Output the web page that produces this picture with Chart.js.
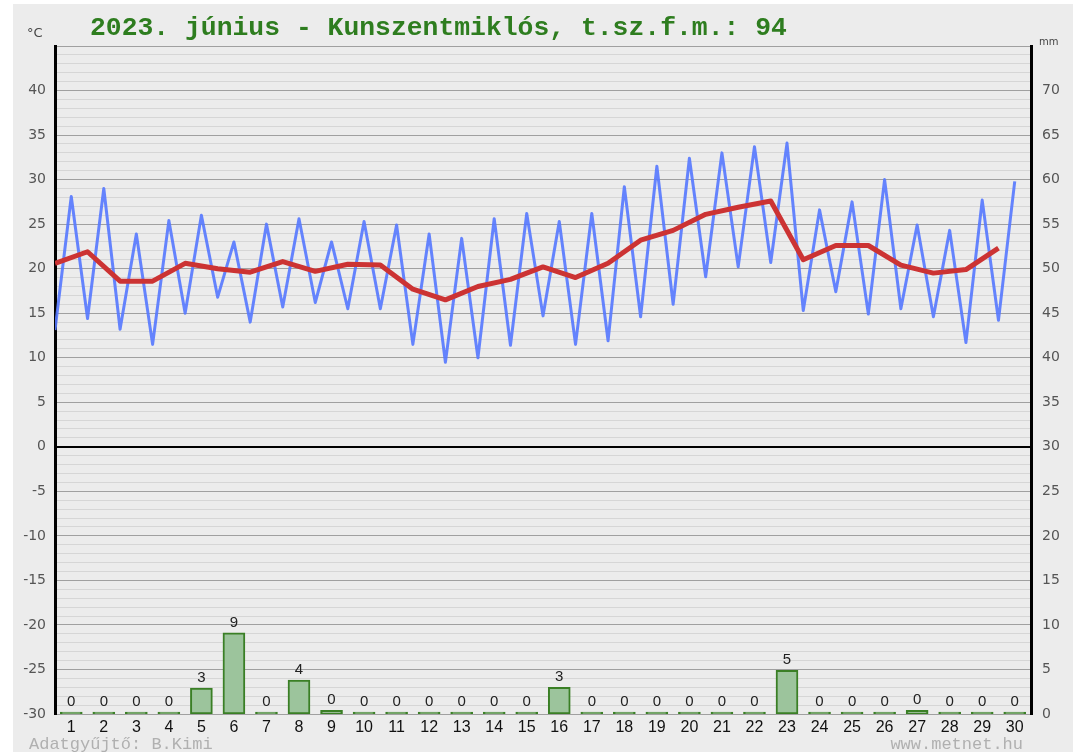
<!DOCTYPE html>
<html>
<head>
<meta charset="utf-8">
<script src="https://cdn.jsdelivr.net/npm/chart.js@4"></script>
<style>
  html, body { margin: 0; padding: 0; background: #ffffff; }
  #wrap { position: absolute; left: 13px; top: 4px; width: 1060px; height: 748px; background: #ececec; }
</style>
</head>
<body>
<div id="wrap"><canvas id="myChart"></canvas></div>
<script>
// napi adatok, 2023. június
var days = ['1','2','3','4','5','6','7','8','9','10','11','12','13','14','15',
            '16','17','18','19','20','21','22','23','24','25','26','27','28','29','30'];
var tmin = [13.1, 14.4, 13.2, 11.5, 15.0, 16.8, 14.0, 15.7, 16.2, 15.5,
            15.5, 11.5, 9.5, 10.0, 11.4, 14.7, 11.5, 11.9, 14.6, 16.0,
            19.1, 20.2, 20.7, 15.3, 17.4, 14.9, 15.5, 14.6, 11.7, 14.2];
var tmax = [28.1, 29.0, 23.9, 25.4, 26.0, 23.0, 25.0, 25.6, 23.0, 25.3,
            24.9, 23.9, 23.4, 25.6, 26.2, 25.3, 26.2, 29.2, 31.5, 32.4,
            33.0, 33.7, 34.1, 26.6, 27.5, 30.0, 24.9, 24.3, 27.7, 29.8];
var tavg = [20.6, 21.9, 18.6, 18.6, 20.6, 20.0, 19.6, 20.8, 19.7, 20.5,
            20.4, 17.7, 16.5, 18.0, 18.8, 20.2, 19.0, 20.6, 23.2, 24.3,
            26.1, 26.9, 27.6, 21.0, 22.6, 22.6, 20.4, 19.5, 19.9, 22.3];
var csap = [0, 0, 0, 0, 2.9, 9.1, 0, 3.8, 0.4, 0,
            0, 0, 0, 0, 0, 3.0, 0, 0, 0, 0,
            0, 0, 4.9, 0, 0, 0, 0.4, 0, 0, 0];
var tempTicks = [-30, 45];
var mmTicks = [0, 75];

// pontok felépítése a tömbökből
var minmax = [];
for (var i = 0; i < days.length; i++) {
    minmax.push({x: i, y: tmin[i]});
    minmax.push({x: i + 0.5, y: tmax[i]});
}
var atlag = tavg.map(function (v, i) { return {x: i, y: v}; });
var bars = csap.map(function (v, i) { return {x: i + 0.5, y: v}; });

var feliratok = {
    id: 'feliratok',
    afterDatasetsDraw: function (chart) {
        var c = chart.ctx;
        c.save();
        // csapadék értékek az oszlopok fölött
        var meta = chart.getDatasetMeta(2);
        c.fillStyle = '#222';
        c.font = '15px "Liberation Sans"';
        c.textAlign = 'center';
        c.textBaseline = 'bottom';
        meta.data.forEach(function (el, i) {
            c.fillText(String(Math.round(csap[i])), el.x, el.y - 3);
        });
        // cím
        c.fillStyle = '#2e7d1f';
        c.font = 'bold 26.4px "Liberation Mono"';
        c.textAlign = 'left';
        c.textBaseline = 'alphabetic';
        c.fillText('2023. június - Kunszentmiklós, t.sz.f.m.: 94', 77, 31);
        // mértékegységek
        c.fillStyle = '#444';
        c.font = '13px "DejaVu Sans"';
        c.textBaseline = 'middle';
        c.fillText('°C', 14, 30);
        c.font = '10px "DejaVu Sans"';
        c.fillText('mm', 1026, 38);
        // lábléc
        c.fillStyle = '#b0b0b0';
        c.font = '17px "Liberation Mono"';
        c.fillText('Adatgyűjtő: B.Kimi', 16, 740);
        c.textAlign = 'right';
        c.fillText('www.metnet.hu', 1010, 740);
        c.restore();
    }
};

var ctx = document.getElementById('myChart').getContext('2d');
var chart = new Chart(ctx, {
    data: {
        datasets: [{
            type: 'line',
            label: 'középhőmérséklet',
            data: atlag,
            borderColor: '#cc3333',
            borderWidth: 5,
            borderJoinStyle: 'round',
            pointRadius: 0,
            tension: 0,
            yAxisID: 'y',
            order: 0
        }, {
            type: 'line',
            label: 'min/max',
            data: minmax,
            borderColor: 'rgba(85, 120, 255, 0.9)',
            borderWidth: 3,
            borderJoinStyle: 'round',
            pointRadius: 0,
            tension: 0,
            yAxisID: 'y',
            order: 1
        }, {
            type: 'bar',
            label: 'csapadék',
            data: bars,
            backgroundColor: '#9cc49c',
            borderColor: '#3a7f25',
            borderWidth: 2,
            borderSkipped: false,
            barThickness: 22,
            minBarLength: 2,
            yAxisID: 'y2',
            order: 2
        }]
    },
    options: {
        responsive: true,
        maintainAspectRatio: false,
        animation: false,
        layout: {padding: {top: 42, left: 0, right: 0, bottom: 0}},
        plugins: {legend: {display: false}, tooltip: {enabled: false}},
        scales: {
            x: {
                type: 'linear',
                offset: false,
                min: 0,
                max: days.length,
                grid: {display: false, drawTicks: false},
                border: {display: false},
                afterBuildTicks: function (axis) {
                    axis.ticks = days.map(function (d, i) { return {value: i + 0.5}; });
                },
                afterFit: function (axis) { axis.height = 38; },
                ticks: {
                    autoSkip: false,
                    maxRotation: 0,
                    padding: 4,
                    color: '#111',
                    font: {family: 'Liberation Sans', size: 16},
                    callback: function (v, i) { return days[i]; }
                }
            },
            y: {
                position: 'left',
                min: tempTicks[0],
                max: tempTicks[1],
                afterFit: function (axis) { axis.width = 42; },
                border: {display: true, color: '#000', width: 3},
                grid: {
                    drawTicks: false,
                    color: function (c) {
                        var v = c.tick.value;
                        if (v === 0) return '#000';
                        if (v % 5 === 0) return '#a0a0a0';
                        return '#d6d6d6';
                    },
                    lineWidth: function (c) { return c.tick.value === 0 ? 2 : 1; }
                },
                ticks: {
                    stepSize: 1,
                    maxTicksLimit: 200,
                    autoSkip: false,
                    padding: 9,
                    color: '#555',
                    font: {family: 'DejaVu Sans', size: 14},
                    callback: function (v) {
                        return (v % 5 === 0 && v !== tempTicks[1]) ? String(v) : '';
                    }
                }
            },
            y2: {
                position: 'right',
                min: mmTicks[0],
                max: mmTicks[1],
                afterFit: function (axis) { axis.width = 42; },
                border: {display: true, color: '#000', width: 3},
                grid: {display: false, drawTicks: false},
                ticks: {
                    stepSize: 5,
                    maxTicksLimit: 200,
                    autoSkip: false,
                    padding: 11,
                    color: '#555',
                    font: {family: 'DejaVu Sans', size: 14},
                    callback: function (v) {
                        return v !== mmTicks[1] ? String(v) : '';
                    }
                }
            }
        }
    },
    plugins: [feliratok]
});
</script>
</body>
</html>
